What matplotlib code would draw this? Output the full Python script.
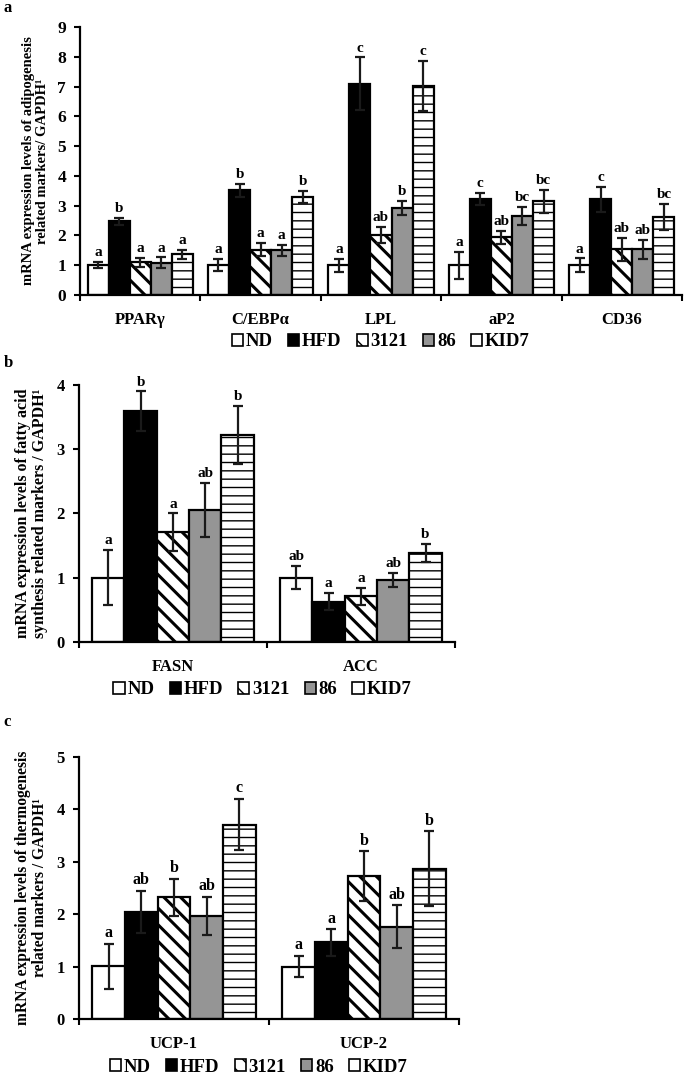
# Imports
# ===================================
import numpy as np
import matplotlib
matplotlib.use("Agg")
import matplotlib.pyplot as plt
from matplotlib.patches import Patch

plt.rcParams['font.family'] = ['Liberation Serif', 'DejaVu Serif']
plt.rcParams['font.weight'] = 'bold'
plt.rcParams['axes.labelweight'] = 'bold'

# Data
# ===================================
groups = ["ND", "HFD", "3121", "86", "KID7"]

a_markers = ["PPARγ", "C/EBPα", "LPL", "aP2", "CD36"]
a_means = [
    [1.00, 1.00, 1.00, 1.00, 1.00],
    [2.48, 3.52, 7.10, 3.23, 3.22],
    [1.10, 1.52, 2.01, 1.94, 1.53],
    [1.08, 1.50, 2.91, 2.66, 1.53],
    [1.36, 3.30, 7.02, 3.14, 2.62],
]
a_errs = [
    [0.10, 0.20, 0.22, 0.45, 0.23],
    [0.12, 0.22, 0.88, 0.20, 0.42],
    [0.15, 0.22, 0.28, 0.22, 0.39],
    [0.18, 0.18, 0.24, 0.30, 0.33],
    [0.15, 0.20, 0.85, 0.38, 0.44],
]
a_letters = [
    ["a", "a", "a", "a", "a"],
    ["b", "b", "c", "c", "c"],
    ["a", "a", "ab", "ab", "ab"],
    ["a", "a", "b", "bc", "ab"],
    ["a", "b", "c", "bc", "bc"],
]

b_markers = ["FASN", "ACC"]
b_means = [[1.00, 1.00], [3.59, 0.63], [1.71, 0.71], [2.05, 0.97], [3.22, 1.39]]
b_errs = [[0.43, 0.18], [0.31, 0.13], [0.29, 0.13], [0.42, 0.11], [0.45, 0.14]]
b_letters = [["a", "ab"], ["b", "a"], ["a", "a"], ["ab", "ab"], ["b", "b"]]

c_markers = ["UCP-1", "UCP-2"]
c_means = [[1.01, 1.00], [2.04, 1.46], [2.32, 2.73], [1.97, 1.76], [3.71, 2.87]]
c_errs = [[0.43, 0.20], [0.40, 0.25], [0.36, 0.47], [0.36, 0.41], [0.49, 0.71]]
c_letters = [["a", "a"], ["ab", "a"], ["b", "b"], ["ab", "ab"], ["c", "b"]]

# Styles
# ===================================
FACES = ["white", "black", "white", "#959595", "white"]
HATCHES = [None, None, "\\\\", None, "--"]
HATCH_LW = [1.0, 1.0, 2.2, 1.0, 1.0]


def draw_panel(ax, markers, means, errs, letters, ymax, ylabel,
               width, tick_fs, lab_fs, let_fs, ylab_fs):
    x = np.arange(len(markers))
    for j in range(len(groups)):
        bars = ax.bar(x + (j - 2) * width, means[j], width, color=FACES[j],
                      edgecolor="black", linewidth=1.6, hatch=HATCHES[j],
                      zorder=2)
        if HATCHES[j]:
            for b in bars:
                if hasattr(b, "set_hatch_linewidth"):
                    b.set_hatch_linewidth(HATCH_LW[j])
        ax.errorbar(x + (j - 2) * width, means[j], yerr=errs[j], fmt="none",
                    ecolor="#1a1a1a", elinewidth=1.6, capsize=3.5,
                    capthick=1.6, zorder=3)
        for xi, m, e, t in zip(x + (j - 2) * width, means[j], errs[j], letters[j]):
            ax.annotate(t, (xi, m + e), xytext=(0, 2), textcoords="offset points",
                        ha="center", va="bottom", fontsize=let_fs,
                        fontweight="bold")
    ax.set_xlim(-0.5, len(markers) - 0.5)
    ax.set_ylim(0, ymax)
    ax.set_yticks(range(ymax + 1))
    ax.set_xticks(x)
    ax.set_xticklabels(markers, fontsize=lab_fs, fontweight="bold")
    ax.set_xticks(np.arange(len(markers) + 1) - 0.5, minor=True)
    ax.tick_params(axis="x", which="major", length=0, pad=12)
    ax.tick_params(axis="x", which="minor", length=4, width=1.5, direction="out")
    ax.tick_params(axis="y", length=4, width=1.5, direction="out",
                   labelsize=tick_fs, pad=6)
    for lab in ax.get_yticklabels():
        lab.set_fontweight("bold")
    ax.spines["top"].set_visible(False)
    ax.spines["right"].set_visible(False)
    ax.spines["left"].set_linewidth(1.6)
    ax.spines["bottom"].set_linewidth(1.6)
    ax.set_ylabel(ylabel, fontsize=ylab_fs, fontweight="bold", linespacing=1.1,
                  labelpad=6)


def legend_handles():
    hs = []
    for j, g in enumerate(groups):
        hs.append(Patch(facecolor=FACES[j], edgecolor="black", linewidth=1.2,
                        hatch=("\\\\" if j == 2 else None), label=g))
    return hs


# Graph
# ===================================
fig = plt.figure(figsize=(6.85, 10.75), dpi=100)

ax_a = fig.add_axes([0.1168, 0.7256, 0.8788, 0.2493])
draw_panel(ax_a, a_markers, a_means, a_errs, a_letters, 9,
           "mRNA expression levels of adipogenesis\nrelated markers/ GAPDH¹",
           0.175, 12.5, 12, 11, 10.5)

ax_b = fig.add_axes([0.1153, 0.4028, 0.5487, 0.2391])
draw_panel(ax_b, b_markers, b_means, b_errs, b_letters, 4,
           "mRNA expression levels of fatty acid\nsynthesis related markers / GAPDH¹",
           0.172, 12, 12, 11, 11.5)

ax_c = fig.add_axes([0.1153, 0.0521, 0.5547, 0.2437])
draw_panel(ax_c, c_markers, c_means, c_errs, c_letters, 5,
           "mRNA expression levels of thermogenesis\nrelated markers / GAPDH¹",
           0.172, 12, 12, 11.5, 11.2)

for (xc, yc) in [(0.556, 1 - 342 / 1075), (0.383, 1 - 690 / 1075), (0.378, 1 - 1067 / 1075)]:
    fig.legend(handles=legend_handles(), loc="center", bbox_to_anchor=(xc, yc),
               ncol=5, frameon=False, handlelength=0.6, handleheight=0.6,
               handletextpad=0.15, columnspacing=0.8,
               prop={"size": 13.5, "weight": "bold"})

for lab, yp in [("a", 8), ("b", 363), ("c", 722)]:
    fig.text(0.005, 1 - yp / 1075, lab, fontsize=12, fontweight="bold",
             va="center", ha="left")

plt.savefig("out.png", dpi=100)
